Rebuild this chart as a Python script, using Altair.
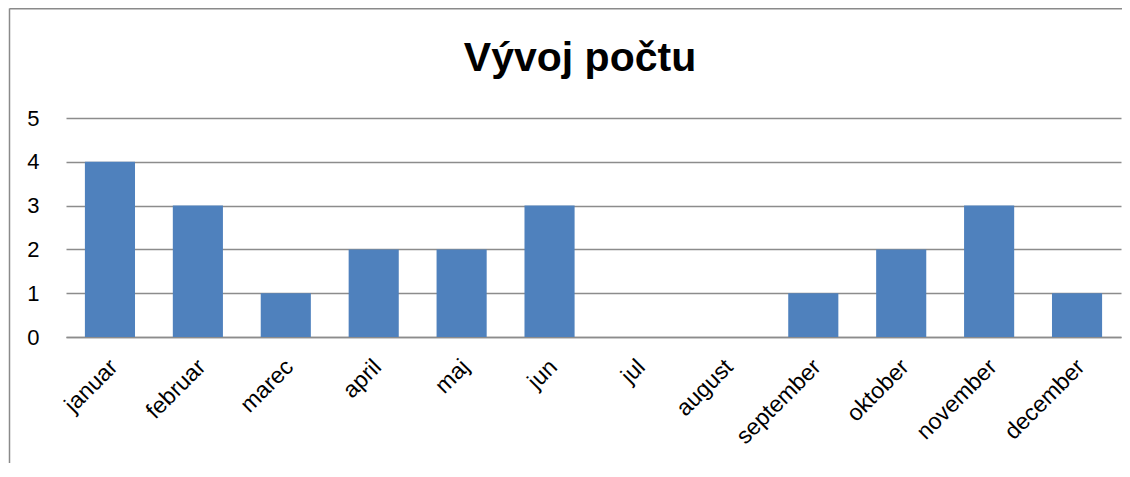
import altair as alt
import pandas as pd

months = ["januar", "februar", "marec", "april", "maj", "jun", "jul",
          "august", "september", "oktober", "november", "december"]
counts = [4, 3, 1, 2, 2, 3, 0, 0, 1, 2, 3, 1]
y_ticks = [0, 1, 2, 3, 4, 5]
title_text = "Vývoj počtu"

df = pd.DataFrame({"mesiac": months, "pocet": counts})
one_df = pd.DataFrame({"t": [title_text]})

FONT = "Liberation Sans"
GRID = "#8c8c8c"

bars = alt.Chart(df).mark_bar(color="#4F81BD").encode(
    x=alt.X("mesiac:N", sort=months, title=None,
            scale=alt.Scale(paddingInner=0.43, paddingOuter=0.215),
            axis=alt.Axis(labelAngle=-45, labelAlign="right", labelBaseline="middle",
                          labelPadding=26, labelOffset=4, ticks=False,
                          domain=True, domainColor=GRID, domainWidth=1.5,
                          labelFont=FONT, labelFontSize=23, labelColor="black")),
    y=alt.Y("pocet:Q", title=None,
            scale=alt.Scale(domain=[0, 5], nice=False),
            axis=alt.Axis(values=y_ticks, format="d", grid=True, gridColor=GRID,
                          gridWidth=1.5, domain=False, ticks=False, labelPadding=27,
                          labelFont=FONT, labelFontSize=22, labelColor="black")),
)

title = alt.Chart(one_df).mark_text(font=FONT, fontSize=41, fontWeight="bold",
                                    color="black", align="center",
                                    baseline="alphabetic", clip=False).encode(
    text="t:N", x=alt.value(514), y=alt.value(-47))

left_line = alt.Chart(one_df).mark_rule(color="#8a8a8a", strokeWidth=1.5, clip=False).encode(
    x=alt.value(-56.5), y=alt.value(-109.5), y2=alt.value(345))
top_line = alt.Chart(one_df).mark_rule(color="#8a8a8a", strokeWidth=1.5, clip=False).encode(
    x=alt.value(-56.5), x2=alt.value(1060), y=alt.value(-109.3))

chart = alt.layer(bars, title, left_line, top_line).properties(
    width=1055, height=219,
    autosize=alt.AutoSizeParams(type="none"),
    padding={"left": 58, "top": 110, "right": 1, "bottom": 126},
).configure_view(stroke=None)

chart.save("out.html", embed_options={"renderer": "svg", "actions": False})
